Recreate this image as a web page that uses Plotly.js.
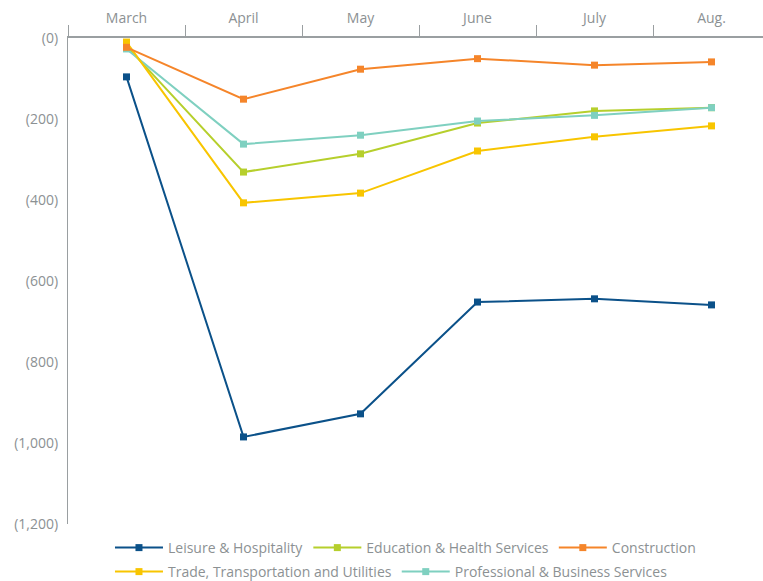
<!DOCTYPE html>
<html><head><meta charset="utf-8">
<script src="https://cdn.plot.ly/plotly-3.0.1.min.js"></script>
<style>body{margin:0;background:#fff}#chart{width:763px;height:581px}</style>
</head><body><div id="chart"></div>
<script>
const months = ["March","April","May","June","July","Aug."];
const leisure = [-96,-985,-928,-652,-644,-659];
const education = [-20,-331,-286,-210,-180,-172];
const construction = [-23,-151,-77,-51,-67,-59];
const trade = [-10,-407,-383,-279,-244,-217];
const professional = [-27,-262,-240,-205,-191,-172];
const yTickVals = [0,-200,-400,-600,-800,-1000,-1200];
const yTickText = ["(0)","(200)","(400)","(600)","(800)","(1,000)","(1,200)"];

const series = [
  {name:"Leisure & Hospitality", y:leisure, color:"#0b5189", lg:"legend"},
  {name:"Education & Health Services", y:education, color:"#b6cf2c", lg:"legend"},
  {name:"Construction", y:construction, color:"#f5852a", lg:"legend"},
  {name:"Trade, Transportation and Utilities", y:trade, color:"#f8c500", lg:"legend2"},
  {name:"Professional & Business Services", y:professional, color:"#7fd0c0", lg:"legend2"}
];
const drawOrder = [0,1,4,3,2];
const traces = drawOrder.map(i => {
  const s = series[i];
  return {
    type:"scatter", mode:"lines+markers", name:s.name, x:months, y:s.y, legend:s.lg,
    legendrank:(i+1)*10,
    line:{color:s.color, width:2}, marker:{symbol:"square", size:7, color:s.color}
  };
});
const gray = "#8c9193";
const legendBase = {orientation:"h", xanchor:"left", yanchor:"middle", itemwidth:48,
  font:{size:14, color:gray}, bgcolor:"rgba(0,0,0,0)", traceorder:"normal"};
const layout = {
  width:763, height:581,
  margin:{l:68, r:0, t:38, b:57, autoexpand:false},
  paper_bgcolor:"#fff", plot_bgcolor:"#fff",
  font:{family:"Open Sans, sans-serif", size:14, color:gray},
  showlegend:true,
  legend:Object.assign({}, legendBase, {x:0.0604, y:-0.0494}),
  legend2:Object.assign({}, legendBase, {x:0.0604, y:-0.0988}),
  xaxis:{type:"category", side:"top", range:[-0.5,5.44], tickson:"boundaries",
    ticks:"outside", ticklen:11, tickcolor:"#9a9fa1", tickwidth:1.2, ticklabelstandoff:8,
    showline:true, linecolor:"#9a9fa1", linewidth:1.5, showgrid:false, zeroline:false,
    tickfont:{size:14, color:gray}, fixedrange:true, categoryorder:"array", categoryarray:months},
  yaxis:{range:[-1200,0], tickvals:yTickVals, ticktext:yTickText, showline:true,
    linecolor:"#9a9fa1", linewidth:1.2, showgrid:false, zeroline:false, ticks:"",
    ticklabelstandoff:6, tickfont:{size:14, color:gray}}
};
Plotly.newPlot("chart", traces, layout, {displayModeBar:false});
</script></body></html>
